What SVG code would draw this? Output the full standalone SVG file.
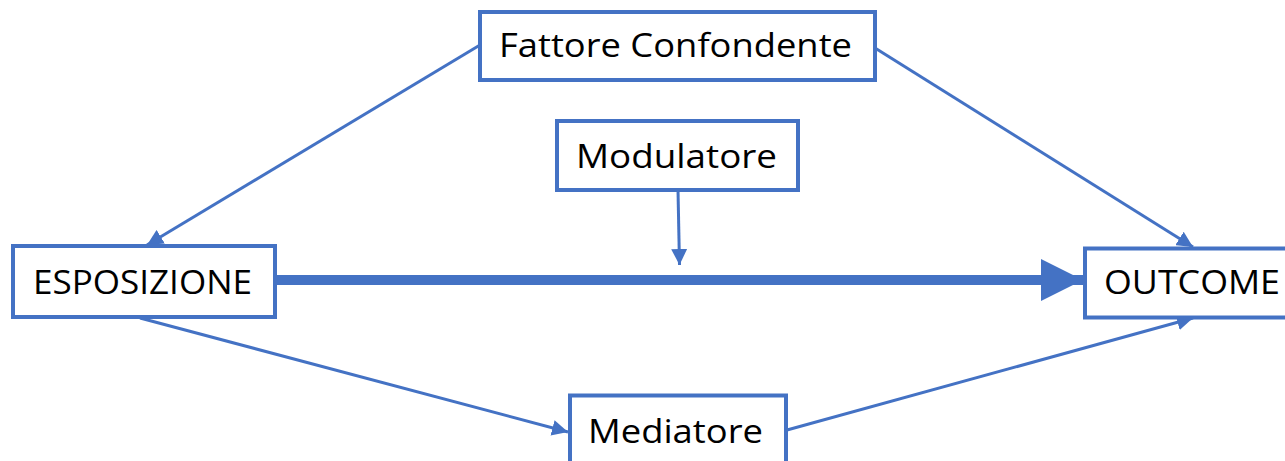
<svg xmlns="http://www.w3.org/2000/svg" width="1285" height="461" viewBox="0 0 1285 461">
<defs>
<style>
.box{fill:#fff;stroke:#4472C4;stroke-width:4}
.lbl{font-family:"Open Sans","Liberation Sans",sans-serif;font-size:33px;fill:#000}
.conn{stroke:#4472C4;stroke-width:3;fill:none}
</style>
<marker id="ah" markerUnits="userSpaceOnUse" markerWidth="16" markerHeight="16" viewBox="0 0 16 16" refX="16" refY="8" orient="auto">
<path d="M0,0 L16,8 L0,16 Z" fill="#4472C4"/>
</marker>
<marker id="big" markerUnits="userSpaceOnUse" markerWidth="42" markerHeight="42" viewBox="0 0 42 42" refX="42" refY="21" orient="auto">
<path d="M0,0 L42,21 L0,42 Z" fill="#4472C4"/>
</marker>
</defs>
<rect width="1285" height="461" fill="#fff"/>
<g id="connectors">
<line class="conn" x1="480" y1="45" x2="147" y2="245" marker-end="url(#ah)"/>
<line class="conn" x1="875" y1="48" x2="1193" y2="247" marker-end="url(#ah)"/>
<line class="conn" x1="678" y1="190" x2="679.5" y2="265" marker-end="url(#ah)"/>
<line class="conn" x1="140" y1="318" x2="568" y2="432" marker-end="url(#ah)"/>
<line class="conn" x1="787" y1="430" x2="1193" y2="318" marker-end="url(#ah)"/>
<line x1="276" y1="280" x2="1083" y2="280" stroke="#4472C4" stroke-width="10" marker-end="url(#big)"/>
</g>
<g id="confondente">
<rect class="box" x="480" y="12" width="395" height="68"/>
<text class="lbl" x="499" y="57" textLength="353" lengthAdjust="spacingAndGlyphs">Fattore Confondente</text>
</g>
<g id="modulatore">
<rect class="box" x="557" y="121" width="241" height="69"/>
<text class="lbl" x="576" y="168" textLength="201" lengthAdjust="spacingAndGlyphs">Modulatore</text>
</g>
<g id="esposizione">
<rect class="box" x="13" y="246" width="262" height="71"/>
<text class="lbl" x="33" y="294" textLength="219" lengthAdjust="spacingAndGlyphs">ESPOSIZIONE</text>
</g>
<g id="outcome">
<rect class="box" x="1085" y="248.5" width="215" height="69"/>
<text class="lbl" x="1104" y="294" textLength="176" lengthAdjust="spacingAndGlyphs">OUTCOME</text>
</g>
<g id="mediatore">
<rect class="box" x="570" y="395.5" width="216" height="75"/>
<text class="lbl" x="588" y="443" textLength="175" lengthAdjust="spacingAndGlyphs">Mediatore</text>
</g>
</svg>
